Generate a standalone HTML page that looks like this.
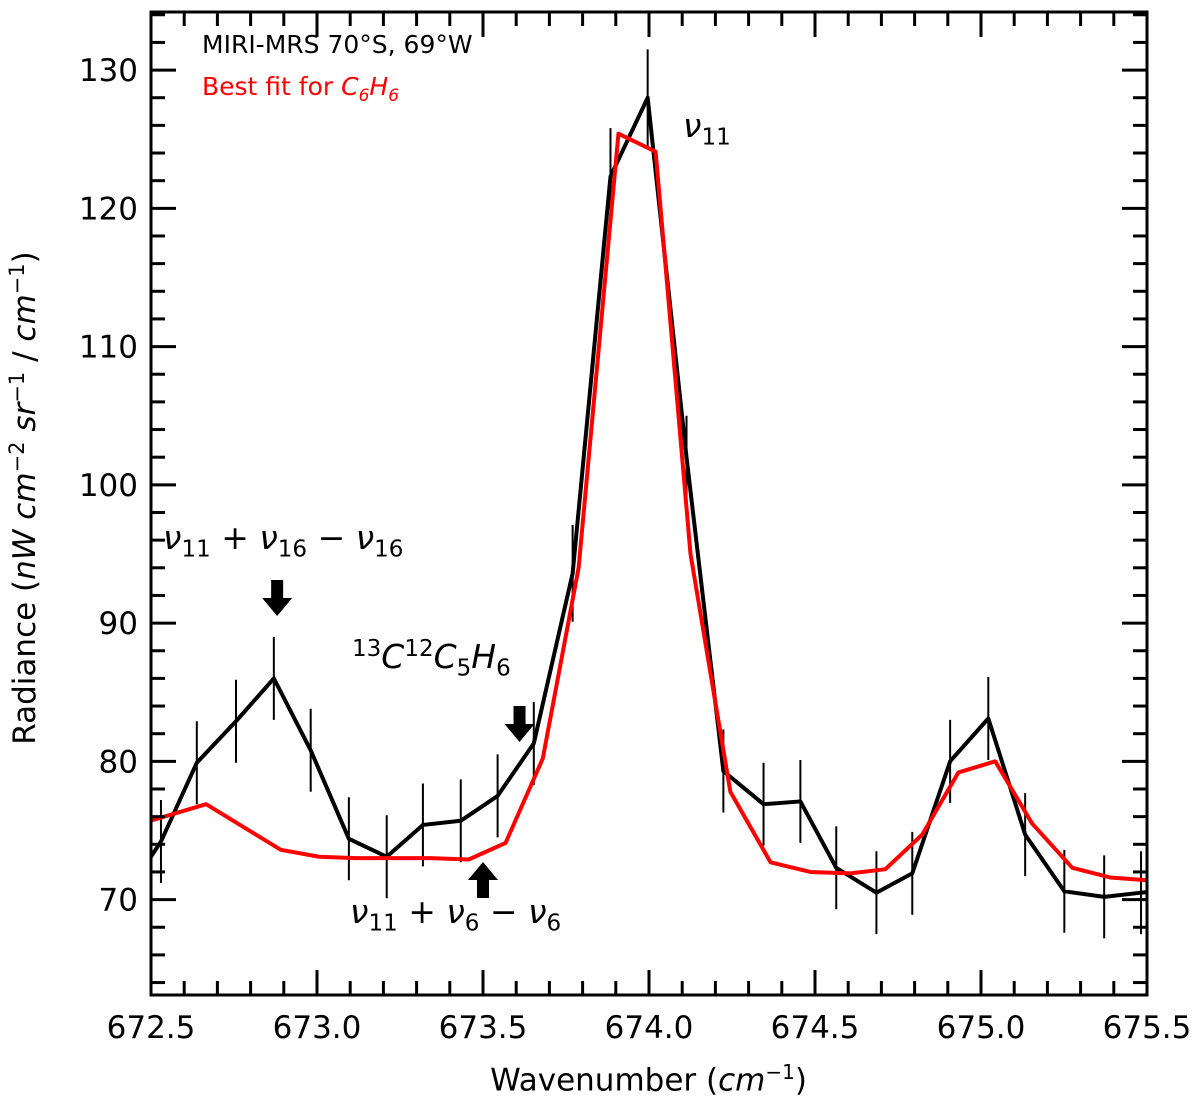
<!DOCTYPE html>
<html><head><meta charset="utf-8"><style>
body{margin:0;background:#fff}
svg text{font-family:"DejaVu Sans","Liberation Sans",sans-serif}
</style></head><body>
<svg id="c" width="1200" height="1106" xmlns="http://www.w3.org/2000/svg"></svg>
<script>
const obsX=[672.42,672.53,672.638,672.756,672.870,672.981,673.096,673.210,673.319,673.433,673.544,673.653,673.770,673.884,673.996,674.113,674.224,674.345,674.456,674.564,674.685,674.793,674.907,675.022,675.133,675.251,675.371,675.482,675.6];
const obsY=[70.2,74.2,79.9,82.9,86.0,80.8,74.4,73.1,75.4,75.7,77.5,81.3,93.6,122.3,128.0,102.0,79.3,76.9,77.1,72.3,70.5,71.9,80.0,83.1,74.7,70.6,70.2,70.5,70.8];
const obsErr=[0,3,3,3,3,3,3,3,3,3,3,3,3.5,3.5,3.5,3,3,3,3,3,3,3,3,3,3,3,3,3,3];
const fitX=[672.40,672.666,672.891,673.006,673.117,673.228,673.343,673.457,673.568,673.680,673.788,673.908,674.020,674.125,674.245,674.366,674.486,674.607,674.712,674.823,674.932,675.043,675.154,675.275,675.389,675.5];
const fitY=[75.0,76.9,73.6,73.1,73.0,73.0,73.0,72.9,74.1,80.2,94.0,125.4,124.1,95.0,77.8,72.7,72.0,71.9,72.2,74.7,79.2,80.0,75.5,72.3,71.6,71.4];
const xTicks=[672.5,673.0,673.5,674.0,674.5,675.0,675.5];
const xTickLabels=["672.5","673.0","673.5","674.0","674.5","675.0","675.5"];
const yTicks=[70,80,90,100,110,120,130];
const yTickLabels=["70","80","90","100","110","120","130"];

const L=151,R=1147,T=12,B=995,x0=672.5,x1=675.5,y0=63.1,y1=134.2;
const sx=v=>L+(v-x0)/(x1-x0)*(R-L);
const sy=v=>B-(v-y0)/(y1-y0)*(B-T);
const svg=document.getElementById('c');
const NS='http://www.w3.org/2000/svg';
function mk(tag,attrs,parent){const e=document.createElementNS(NS,tag);for(const k in attrs)e.setAttribute(k,attrs[k]);(parent||svg).appendChild(e);return e;}

const defs=mk('defs',{});
const cp=mk('clipPath',{id:'clip'},defs);
mk('rect',{x:L,y:T,width:R-L,height:B-T},cp);
const plot=mk('g',{'clip-path':'url(#clip)'});



for(let i=0;i<obsX.length;i++){
  if(!obsErr[i])continue;
  const e=mk('line',{x1:sx(obsX[i]),x2:sx(obsX[i]),y1:sy(obsY[i]-obsErr[i]),y2:sy(obsY[i]+obsErr[i]),stroke:'#000','stroke-width':2},plot);
  
  
}
const obs=mk('polyline',{points:obsX.map((v,i)=>sx(v)+','+sy(obsY[i])).join(' '),fill:'none',stroke:'#000','stroke-width':4,'stroke-linejoin':'round'},plot);


const fit=mk('polyline',{points:fitX.map((v,i)=>sx(v)+','+sy(fitY[i])).join(' '),fill:'none',stroke:'#f00','stroke-width':4,'stroke-linejoin':'round'},plot);



const tg=mk('g',{stroke:'#000','stroke-width':3});


for(let v=672.5;v<=675.501;v+=0.1){
  const X=sx(v);const major=Math.abs((v*2)-Math.round(v*2))<1e-6;const len=major?25:14;
  mk('line',{x1:X,x2:X,y1:B,y2:B-len},tg);mk('line',{x1:X,x2:X,y1:T,y2:T+len},tg);
}
for(let v=64;v<=134;v+=2){
  const Y=sy(v);const major=v%10===0;const len=major?25:14;
  mk('line',{x1:L,x2:L+len,y1:Y,y2:Y},tg);mk('line',{x1:R,x2:R-len,y1:Y,y2:Y},tg);
}
const fr=mk('rect',{x:L,y:T,width:R-L,height:B-T,fill:'none',stroke:'#000','stroke-width':3});



xTicks.forEach((v,i)=>{const t=mk('text',{x:sx(v),y:B+43,'font-size':31,'text-anchor':'middle'});t.textContent=xTickLabels[i];

});
yTicks.forEach((v,i)=>{const t=mk('text',{x:L-13,y:sy(v)+11,'font-size':31,'text-anchor':'end'});t.textContent=yTickLabels[i];

});

function arrow(xv,yTip,up,name){
  const X=sx(xv);const d=up?-1:1;
  const p=mk('polygon',{points:`${X},${yTip} ${X-15},${yTip-d*18} ${X-6},${yTip-d*18} ${X-6},${yTip-d*36} ${X+6},${yTip-d*36} ${X+6},${yTip-d*18} ${X+15},${yTip-d*18}`,fill:'#000'});
  
  
}
arrow(672.88,616,false,'arrow-nu16');
arrow(673.61,742,false,'arrow-13c');
arrow(673.50,862,true,'arrow-nu6');
</script>
<div style="position:absolute;left:0;top:0;width:1200px;height:1106px;font-family:'DejaVu Sans','Liberation Sans',sans-serif;pointer-events:none">
<div style="position:absolute;left:202px;top:30px;font-size:25px;color:#000">MIRI-MRS 70°S, 69°W</div>
<div style="position:absolute;left:202px;top:72px;font-size:25px;color:#f00">Best fit for <i>C</i><sub style="font-size:17px"><i>6</i></sub><i>H</i><sub style="font-size:17px"><i>6</i></sub></div>
<div style="position:absolute;left:683px;top:106px;font-size:33px"><i>ν</i><sub style="font-size:23px">11</sub></div>
<div style="position:absolute;left:163px;top:518px;font-size:33px"><i>ν</i><sub style="font-size:23px">11</sub> + <i>ν</i><sub style="font-size:23px">16</sub> − <i>ν</i><sub style="font-size:23px">16</sub></div>
<div style="position:absolute;left:352px;top:636px;font-size:33px"><sup style="font-size:23px">13</sup><i>C</i><sup style="font-size:23px">12</sup><i>C</i><sub style="font-size:23px">5</sub><i>H</i><sub style="font-size:23px">6</sub></div>
<div style="position:absolute;left:350px;top:892px;font-size:33px"><i>ν</i><sub style="font-size:23px">11</sub> + <i>ν</i><sub style="font-size:23px">6</sub> − <i>ν</i><sub style="font-size:23px">6</sub></div>
<div style="position:absolute;left:0;width:1297px;text-align:center;top:1060px;font-size:31px">Wavenumber (<i>cm</i><sup style="font-size:20px">−1</sup>)</div>
<div style="position:absolute;left:24px;top:498px;width:0;height:0"><div style="position:absolute;transform:translate(-50%,-50%) rotate(-90deg);white-space:nowrap;font-size:31px">Radiance (<i>nW cm</i><sup style="font-size:21px">−2</sup> <i>sr</i><sup style="font-size:21px">−1</sup> / <i>cm</i><sup style="font-size:21px">−1</sup>)</div></div>
</div>
</body></html>
